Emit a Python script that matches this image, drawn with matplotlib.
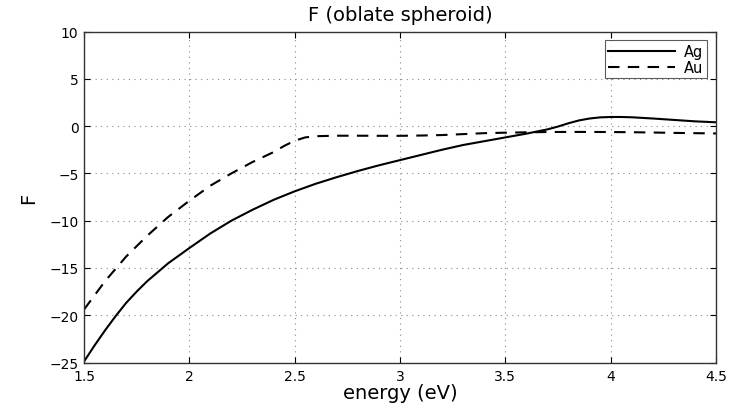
import matplotlib
matplotlib.use("Agg")
import matplotlib.pyplot as plt

plt.rcParams['font.family'] = ['DejaVu Sans']
plt.rcParams['axes.unicode_minus'] = True

energy_ag = [1.5, 1.55, 1.6, 1.65, 1.7, 1.75, 1.8, 1.9, 2.0, 2.1, 2.2, 2.3, 2.4, 2.5,
             2.6, 2.7, 2.8, 2.9, 3.0, 3.1, 3.2, 3.3, 3.4, 3.5, 3.6, 3.7, 3.75, 3.8,
             3.85, 3.9, 3.95, 4.0, 4.05, 4.1, 4.2, 4.3, 4.4, 4.5]
F_ag = [-24.9, -23.2, -21.6, -20.1, -18.7, -17.5, -16.4, -14.5, -12.9, -11.35, -10.0,
        -8.85, -7.8, -6.9, -6.1, -5.4, -4.75, -4.15, -3.6, -3.05, -2.5, -2.0, -1.6,
        -1.2, -0.8, -0.35, -0.05, 0.3, 0.6, 0.8, 0.92, 0.96, 0.96, 0.93, 0.8, 0.65,
        0.5, 0.4]

energy_au = [1.5, 1.6, 1.7, 1.8, 1.9, 2.0, 2.1, 2.2, 2.3, 2.4, 2.45, 2.5, 2.55, 2.6,
             2.7, 2.8, 2.9, 3.0, 3.1, 3.2, 3.3, 3.4, 3.5, 3.6, 3.7, 3.8, 3.9, 4.0,
             4.1, 4.2, 4.3, 4.4, 4.5]
F_au = [-19.4, -16.4, -13.8, -11.6, -9.6, -7.9, -6.3, -5.0, -3.8, -2.75, -2.1, -1.55,
        -1.2, -1.07, -1.02, -1.02, -1.03, -1.03, -1.0, -0.95, -0.85, -0.75, -0.7,
        -0.66, -0.63, -0.62, -0.62, -0.63, -0.65, -0.68, -0.72, -0.75, -0.78]

xticks = [1.5, 2, 2.5, 3, 3.5, 4, 4.5]
xticklabels = ['1.5', '2', '2.5', '3', '3.5', '4', '4.5']
yticks = [-25, -20, -15, -10, -5, 0, 5, 10]

fig = plt.figure(figsize=(7.33, 4.10), dpi=100)
ax = fig.add_axes([84/733, 1 - 363.5/410, (716-84)/733, (363.5-32.5)/410])

ax.plot(energy_ag, F_ag, color='black', linestyle='-', linewidth=1.5, label='Ag')
ax.plot(energy_au, F_au, color='black', linestyle=(0, (5.5, 4)), linewidth=1.5, label='Au')

ax.set_xlim(1.5, 4.5)
ax.set_ylim(-25, 10)
ax.set_xticks(xticks)
ax.set_xticklabels(xticklabels)
ax.set_yticks(yticks)
ax.grid(True, linestyle=(0, (1, 4)), color='#888888', linewidth=0.8)
ax.tick_params(direction='in', top=True, right=True, labelsize=10, length=4)
ax.tick_params(axis='x', pad=5)
ax.tick_params(axis='y', pad=4)
for s in ax.spines.values():
    s.set_linewidth(1.0)
    s.set_color('#333333')

ax.set_title('F (oblate spheroid)', fontsize=14, pad=8)
ax.set_xlabel('energy (eV)', fontsize=14, labelpad=0)
ax.set_ylabel('F', fontsize=14, labelpad=8)

leg = ax.legend(loc='upper right', fontsize=10.5, frameon=True, fancybox=False,
                edgecolor='#333333', handlelength=4.6, borderaxespad=0.6,
                borderpad=0.25, labelspacing=0.05, handletextpad=0.6)
leg.get_frame().set_linewidth(0.8)

fig.savefig('out.png', dpi=100)
